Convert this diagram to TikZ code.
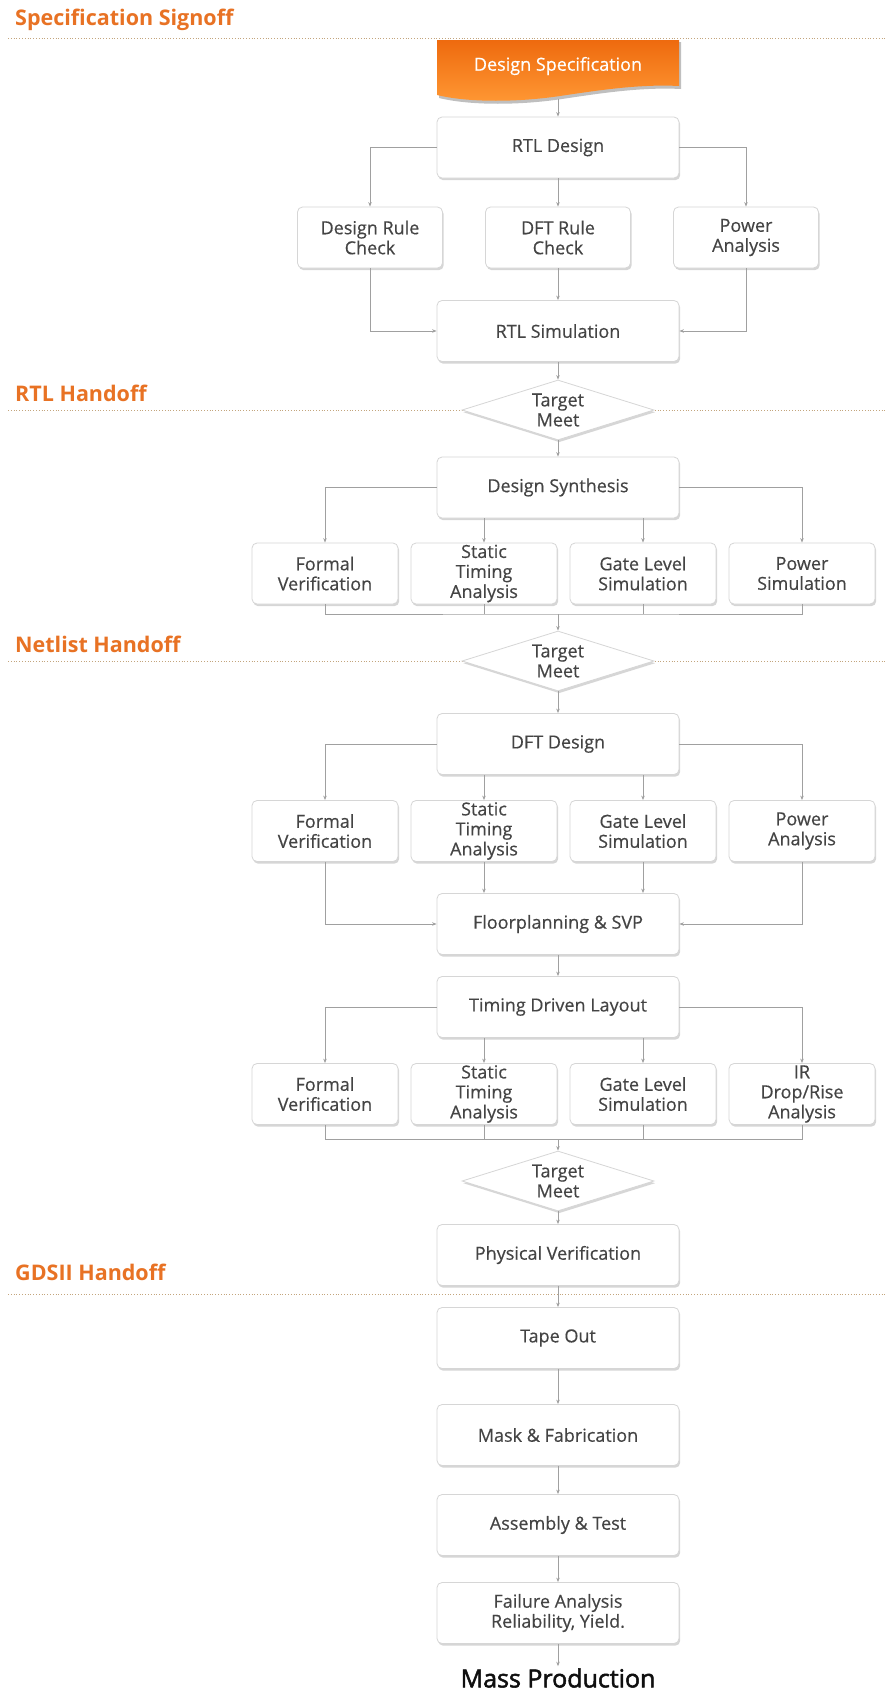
\documentclass[tikz,border=0pt]{standalone}
\usepackage{fontspec}
\setmainfont{Open Sans}
\newfontfamily\boxfont[FakeBold=0.4]{Open Sans}
\newfontfamily\mpfont[FakeBold=2]{Open Sans}
\usetikzlibrary{shapes.geometric,shadows,arrows.meta,calc}
\definecolor{hd}{RGB}{232,114,36}
\definecolor{txt}{RGB}{68,68,68}
\definecolor{bord}{RGB}{214,214,214}
\definecolor{conn}{RGB}{160,160,160}
\definecolor{dots}{RGB}{195,165,125}
\definecolor{orgA}{RGB}{238,106,14}
\definecolor{orgB}{RGB}{255,152,52}
\definecolor{mpc}{RGB}{15,15,15}
\begin{document}
\begin{tikzpicture}[x=1pt,y=-1pt,
  shad/.style={drop shadow={shadow xshift=1.2pt, shadow yshift=-2.2pt, opacity=0.35, fill=black!45}},
  box/.style={draw=bord, line width=0.8pt, fill=white, rounded corners=5pt, minimum width=242pt, minimum height=61pt, inner sep=0pt, align=center, text=txt, font=\boxfont\fontsize{18}{20}\selectfont, shad},
  sbox/.style={box, minimum width=146pt},
  tm/.style={diamond, draw=bord, line width=0.8pt, fill=white, minimum width=192pt, minimum height=60pt, inner sep=0pt, shad},
  tmtext/.style={align=center, text=txt, font=\boxfont\fontsize{18}{20}\selectfont, inner sep=0pt},
  line/.style={draw=conn, line width=0.8pt},
  arr/.style={line, -{Stealth[length=4.5pt,width=3.5pt]}},
  hline/.style={draw=dots, line width=0.8pt, dash pattern=on 0.8pt off 2pt},
  head/.style={anchor=west, text=hd, font=\bfseries\fontsize{21.5}{25}\selectfont, inner sep=0pt},
]
\useasboundingbox[fill=white] (0,0) rectangle (887,1697);

% ---------- section headings and dotted lines ----------
\node[head] (h1) at (15,20) {Specification Signoff};
\node[head] (h2) at (15,393) {RTL Handoff};
\node[head] (h3) at (15,644) {Netlist Handoff};
\node[head] (h4) at (15,1272) {GDSII Handoff};
\draw[hline] (8,38) -- (887,38);
\draw[hline] (8,410) -- (887,410);
\draw[hline] (8,661) -- (887,661);
\draw[hline] (8,1294) -- (887,1294);

% ---------- Design Specification (orange document shape) ----------
\fill[black, opacity=0.25] (439,42) -- (681,42) -- (681,89) .. controls (642,87) and (602,93) .. (562,99) .. controls (522,105) and (472,106) .. (439,98) -- cycle;
\shade[top color=orgA, bottom color=orgB] (437,40) -- (679,40) -- (679,86) .. controls (640,84) and (600,90) .. (560,96) .. controls (520,102) and (470,103) .. (437,95) -- cycle;
\node[text=white, font=\boxfont\fontsize{18}{20}\selectfont, inner sep=0pt] (ds) at (558,66) {Design Specification};
\coordinate (dsb) at (558,99);

% ---------- RTL stage ----------
\node[box] (rtl) at (558,147.5) {RTL Design};
\node[sbox, minimum width=145pt] (drc) at (370,237.5) {Design Rule\\Check};
\node[sbox, minimum width=145pt] (dftr) at (558,237.5) {DFT Rule\\Check};
\node[sbox, minimum width=145pt] (pa1) at (746,237.5) {Power\\Analysis};
\node[box] (rsim) at (558,331) {RTL Simulation};
\node[tm] (d1) at (558,410) {};
\node[tmtext] (d1t) at (d1) {Target\\Meet};

\draw[arr] (dsb) -- (rtl.north);
\draw[arr] (rtl.west) -| (drc.north);
\draw[arr] (rtl.south) -- (dftr.north);
\draw[arr] (rtl.east) -| (pa1.north);
\draw[arr] (drc.south) |- (rsim.west);
\draw[arr] (dftr.south) -- (rsim.north);
\draw[arr] (pa1.south) |- (rsim.east);
\draw[arr] (rsim.south) -- (d1.north);

% ---------- Synthesis stage ----------
\node[box] (syn) at (558,487.5) {Design Synthesis};
\node[sbox] (fv1) at (325,573.5) {Formal\\Verification};
\node[sbox] (sta1) at (484,573.5) {Static\\Timing\\Analysis};
\node[sbox] (gls1) at (643,573.5) {Gate Level\\Simulation};
\node[sbox] (ps1) at (802,573.5) {Power\\Simulation};
\coordinate (c1) at (558,614);
\node[tm] (d2) at (558,661) {};
\node[tmtext] (d2t) at (d2) {Target\\Meet};

\draw[arr] (d1.south) -- (syn.north);
\draw[arr] (syn.west) -| (fv1.north);
\draw[arr] (sta1.north |- syn.south) -- (sta1.north);
\draw[arr] (gls1.north |- syn.south) -- (gls1.north);
\draw[arr] (syn.east) -| (ps1.north);
\draw[line] (fv1.south) |- (c1) -| (ps1.south);
\draw[line] (sta1.south) -- (sta1.south |- c1);
\draw[line] (gls1.south) -- (gls1.south |- c1);
\draw[arr] (c1) -- (d2.north);

% ---------- DFT stage ----------
\node[box] (dft) at (558,744) {DFT Design};
\node[sbox] (fv2) at (325,831) {Formal\\Verification};
\node[sbox] (sta2) at (484,831) {Static\\Timing\\Analysis};
\node[sbox] (gls2) at (643,831) {Gate Level\\Simulation};
\node[sbox] (pa2) at (802,831) {Power\\Analysis};
\node[box] (fp) at (558,924) {Floorplanning \& SVP};

\draw[arr] (d2.south) -- (dft.north);
\draw[arr] (dft.west) -| (fv2.north);
\draw[arr] (sta2.north |- dft.south) -- (sta2.north);
\draw[arr] (gls2.north |- dft.south) -- (gls2.north);
\draw[arr] (dft.east) -| (pa2.north);
\draw[arr] (fv2.south) |- (fp.west);
\draw[arr] (sta2.south) -- (sta2.south |- fp.north);
\draw[arr] (gls2.south) -- (gls2.south |- fp.north);
\draw[arr] (pa2.south) |- (fp.east);

% ---------- Layout stage ----------
\node[box] (tdl) at (558,1007) {Timing Driven Layout};
\node[sbox] (fv3) at (325,1094) {Formal\\Verification};
\node[sbox] (sta3) at (484,1094) {Static\\Timing\\Analysis};
\node[sbox] (gls3) at (643,1094) {Gate Level\\Simulation};
\node[sbox] (ir3) at (802,1094) {IR\\Drop/Rise\\Analysis};
\coordinate (c2) at (558,1139);
\node[tm] (d3) at (558,1181) {};
\node[tmtext] (d3t) at (d3) {Target\\Meet};

\draw[arr] (fp.south) -- (tdl.north);
\draw[arr] (tdl.west) -| (fv3.north);
\draw[arr] (sta3.north |- tdl.south) -- (sta3.north);
\draw[arr] (gls3.north |- tdl.south) -- (gls3.north);
\draw[arr] (tdl.east) -| (ir3.north);
\draw[line] (fv3.south) |- (c2) -| (ir3.south);
\draw[line] (sta3.south) -- (sta3.south |- c2);
\draw[line] (gls3.south) -- (gls3.south |- c2);
\draw[arr] (c2) -- (d3.north);

% ---------- Back end ----------
\node[box] (pv) at (558,1255) {Physical Verification};
\node[box] (to) at (558,1338) {Tape Out};
\node[box] (mf) at (558,1435) {Mask \& Fabrication};
\node[box] (at) at (558,1525) {Assembly \& Test};
\node[box] (fa) at (558,1613) {Failure Analysis\\Reliability, Yield.};
\node[font=\mpfont\fontsize{25}{28}\selectfont, text=mpc, inner sep=2pt] (mp) at (558,1678) {Mass Production};

\draw[arr] (d3.south) -- (pv.north);
\draw[arr] (pv.south) -- (to.north);
\draw[arr] (to.south) -- (mf.north);
\draw[arr] (mf.south) -- (at.north);
\draw[arr] (at.south) -- (fa.north);
\draw[arr] (fa.south) -- (mp.north);
\end{tikzpicture}
\end{document}
